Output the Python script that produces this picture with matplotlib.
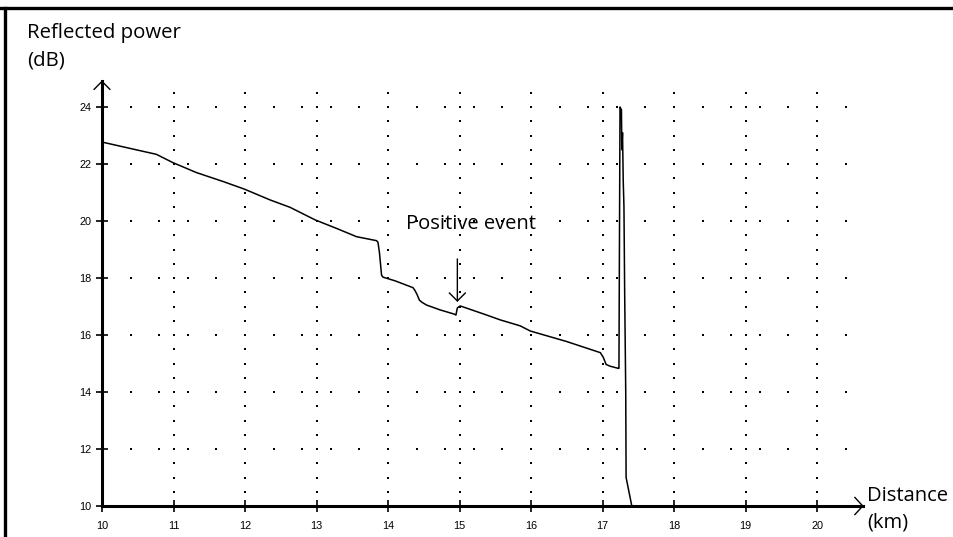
import numpy as np
import matplotlib
matplotlib.use("Agg")
import matplotlib.pyplot as plt
from matplotlib.lines import Line2D

# OTDR trace
dist_km = [10.0, 10.44, 10.76, 10.99, 11.32, 11.70, 11.99, 12.35, 12.63, 12.98,
           13.28, 13.56, 13.84, 13.86, 13.88, 13.91, 13.93, 14.10, 14.35, 14.38,
           14.41, 14.44, 14.48, 14.54, 14.73, 14.93, 14.95, 14.97, 15.01, 15.38,
           15.57, 15.85, 15.99, 16.50, 16.97, 17.01, 17.05, 17.10, 17.22, 17.23,
           17.245, 17.265, 17.27, 17.28, 17.29, 17.30, 17.31, 17.325, 17.33, 17.41]
power_db = [22.77, 22.52, 22.34, 22.05, 21.70, 21.38, 21.12, 20.74, 20.48, 20.04,
            19.74, 19.45, 19.31, 19.25, 18.90, 18.10, 18.03, 17.90, 17.66, 17.55,
            17.40, 17.22, 17.14, 17.05, 16.88, 16.73, 16.70, 16.95, 17.02, 16.70,
            16.53, 16.32, 16.14, 15.77, 15.38, 15.22, 14.97, 14.91, 14.83, 14.83,
            24.0, 23.9, 22.5, 23.1, 21.4, 20.5, 17.5, 14.0, 11.0, 10.0]

x_ticks = [10, 11, 12, 13, 14, 15, 16, 17, 18, 19, 20]
y_ticks = [10, 12, 14, 16, 18, 20, 22, 24]

event_km = 14.97
event_label = "Positive event"

W, H = 954, 537
fig = plt.figure(figsize=(W / 100, H / 100), dpi=100)
ax = fig.add_axes([0, 0, 1, 1])
ax.set_facecolor("white")

# pixel -> data mapping: x=10 at px 102, 71.5 px per km; y=24 at px 107, 28.5 px per dB
ax.set_xlim(10 - 102 / 71.5, 10 + (W - 102) / 71.5)
ax.set_ylim(24 - (H - 107) / 28.5, 24 + 107 / 28.5)

for s in ["top", "right"]:
    ax.spines[s].set_visible(False)
ax.spines["left"].set_position(("data", 10))
ax.spines["bottom"].set_position(("data", 10))
ax.spines["left"].set_bounds(10, 24.9)
ax.spines["bottom"].set_bounds(10, 20.64)
ax.spines["left"].set_linewidth(2.2)
ax.spines["bottom"].set_linewidth(2.2)

tick_font = {"family": "Liberation Sans", "size": 7.8}
ax.set_xticks(x_ticks)
ax.set_yticks(y_ticks)
ax.set_xticklabels([str(v) for v in x_ticks], fontdict=tick_font)
ax.set_yticklabels([str(v) for v in y_ticks], fontdict=tick_font)
ax.tick_params(axis="both", direction="inout", length=9, width=1.2, color="black")
ax.tick_params(axis="x", pad=6)
ax.tick_params(axis="y", pad=3)

# axis arrow heads (open)
ax.plot([10 - 0.11, 10, 10 + 0.11], [24.9 - 0.28, 24.9, 24.9 - 0.28], color="black", lw=1.0, clip_on=False)
ax.plot([20.64 - 0.11, 20.64, 20.64 - 0.11], [10 + 0.3, 10, 10 - 0.3], color="black", lw=1.0, clip_on=False)

# dotted grid
gx, gy = [], []
for xv in range(11, 21):
    for yv in np.arange(10.5, 24.51, 0.5):
        gx.append(xv)
        gy.append(yv)
for yv in range(12, 25, 2):
    for xv in np.arange(10.4, 20.41, 0.4):
        gx.append(xv)
        gy.append(yv)
ax.plot(gx, gy, linestyle="none", marker="s", markersize=1.5, color="black", markeredgewidth=0)

# trace
ax.plot(dist_km, power_db, color="black", lw=1.1)

# event marker
ax.annotate("", xy=(event_km, 17.16), xytext=(event_km, 18.67),
            arrowprops=dict(arrowstyle="->,head_length=0.58,head_width=0.58",
                            color="black", lw=1.0, mutation_scale=10, shrinkA=0, shrinkB=0))
ax.text(15.16, 19.9, event_label, ha="center", va="center", fontsize=14.5, family="Open Sans")

# labels
fig.text(27 / W, 1 - 23 / H, "Reflected power\n(dB)", ha="left", va="top",
         fontsize=14.7, family="Open Sans", linespacing=1.5)
fig.text(867 / W, 1 - 486 / H, "Distance\n(km)", ha="left", va="top",
         fontsize=14.5, family="Open Sans", linespacing=1.45)

# frame lines (top and left)
fig.add_artist(Line2D([0, 1], [1 - 8 / H, 1 - 8 / H], color="black", lw=2.4, transform=fig.transFigure))
fig.add_artist(Line2D([5 / W, 5 / W], [0, 1 - 8 / H], color="black", lw=2.4, transform=fig.transFigure))

fig.savefig("out.png", dpi=100)
